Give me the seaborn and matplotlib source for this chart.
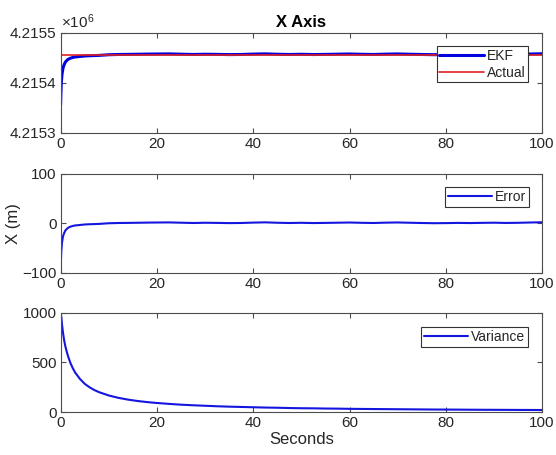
import matplotlib
matplotlib.use("Agg")
import matplotlib.pyplot as plt
import seaborn as sns
from matplotlib.ticker import FuncFormatter

# ---- data ----
t = [0, 0.05, 0.15, 0.3, 0.5, 0.75, 1, 1.5, 2, 2.5, 3, 4, 5, 6, 7, 8, 10, 12, 14, 16, 18, 20,
     22.5, 25, 27.5, 30, 32.5, 35, 37.5, 40, 42.5, 45, 47.5, 50, 52.5, 55, 57.5, 60, 62.5, 65,
     67.5, 70, 72.5, 75, 77.5, 80, 82.5, 85, 87.5, 90, 92.5, 95, 97.5, 100]

ekf = [4215356, 4215376, 4215401, 4215418, 4215430, 4215437, 4215442, 4215447, 4215449.5,
       4215451, 4215452, 4215453, 4215454, 4215454.5, 4215454.8, 4215455.2, 4215456.5,
       4215457.0, 4215457.2, 4215457.5, 4215457.8, 4215458.0,
       4215458.2, 4215457.6, 4215457.0, 4215457.5, 4215457.2, 4215456.8, 4215457.0, 4215457.8,
       4215458.3, 4215457.5, 4215457.0, 4215457.4, 4215456.9, 4215457.2, 4215457.6, 4215458.0,
       4215457.4, 4215457.0, 4215457.7, 4215458.1, 4215457.5, 4215457.0, 4215456.6, 4215456.8,
       4215457.2, 4215456.9, 4215457.3, 4215457.6, 4215457.1, 4215457.4, 4215458.0, 4215458.5]

t_actual = [0, 100]
actual = [4215456, 4215456]

error = [-100, -80, -55, -38, -26, -19, -14, -9, -6.5, -5, -4, -3, -2, -1.5, -1.2, -0.8, 0.5,
         1.0, 1.2, 1.5, 1.8, 2.0,
         2.2, 1.6, 1.0, 1.5, 1.2, 0.8, 1.0, 1.8, 2.3, 1.5, 1.0, 1.4, 0.9, 1.2, 1.6, 2.0, 1.4,
         1.0, 1.7, 2.1, 1.5, 1.0, 0.6, 0.8, 1.2, 0.9, 1.3, 1.6, 1.1, 1.4, 2.0, 2.5]

variance = [0, 970, 960, 880, 800, 720, 660, 570, 500, 445, 400, 335, 285, 250, 222, 200, 167,
            143, 125, 111, 100, 91,
            82, 74, 68, 63, 58, 54, 51, 48, 45, 43, 40, 38, 37, 35, 34, 32, 31, 30, 29, 28, 27,
            26, 25, 24.5, 24, 23, 22.5, 22, 21.5, 21, 20.5, 20]

xticks = [0, 20, 40, 60, 80, 100]

# ---- style ----
sns.set_theme(style="white")
plt.rcParams["font.family"] = ["Liberation Sans", "DejaVu Sans"]
plt.rcParams["mathtext.fontset"] = "custom"
plt.rcParams["mathtext.rm"] = "Liberation Sans"
plt.rcParams["mathtext.it"] = "Liberation Sans"

FS = 11
LFS = 12
edge = "#4d4d4d"
txt = "#262626"

fig = plt.figure(figsize=(5.56, 4.55), dpi=100)
left, width = 0.109, 0.866
ax1 = fig.add_axes([left, 0.7077, width, 0.2198])
ax2 = fig.add_axes([left, 0.400, width, 0.2176])
ax3 = fig.add_axes([left, 0.0945, width, 0.2176])

sns.lineplot(x=t, y=ekf, ax=ax1, color="#0000e0", lw=2.2, label="EKF", sort=False)
sns.lineplot(x=t_actual, y=actual, ax=ax1, color="#e02020", lw=1.2, label="Actual", sort=False)
sns.lineplot(x=t, y=error, ax=ax2, color="#1515e0", lw=1.5, label="Error", sort=False)
sns.lineplot(x=t, y=variance, ax=ax3, color="#1515e0", lw=1.5, label="Variance", sort=False)

ax1.set_ylim(4215300, 4215500)
ax1.set_yticks([4215300, 4215400, 4215500])
ax1.yaxis.set_major_formatter(FuncFormatter(lambda v, p: f"{v/1e6:.4f}"))
ax1.text(0.0, 1.02, r"$\mathregular{\times10^{6}}$", transform=ax1.transAxes,
         ha="left", va="bottom", fontsize=FS, color=txt)
ax1.set_title("X Axis", fontsize=LFS, fontweight="bold", color="black", pad=4)

ax2.set_ylim(-100, 100)
ax2.set_yticks([-100, 0, 100])
ax2.set_ylabel("X (m)", fontsize=LFS, color=txt, labelpad=1)

ax3.set_ylim(0, 1000)
ax3.set_yticks([0, 500, 1000])
ax3.set_xlabel("Seconds", fontsize=LFS, color=txt, labelpad=1)

anchors = {ax1: (0.971, 0.87), ax2: (0.973, 0.869), ax3: (0.971, 0.859)}
for ax in (ax1, ax2, ax3):
    ax.set_xlim(0, 100)
    ax.set_xticks(xticks)
    ax.tick_params(direction="in", length=3.5, width=0.8, colors=edge, labelcolor=txt,
                   labelsize=FS, top=True, right=True, bottom=True, left=True, pad=3)
    for s in ax.spines.values():
        s.set_color(edge)
        s.set_linewidth(0.8)
    leg = ax.legend(loc="upper right", fontsize=10, handlelength=3.2, handletextpad=0.2,
                    borderpad=0.2, labelspacing=0.2, fancybox=False, framealpha=1,
                    edgecolor="#333333", bbox_to_anchor=anchors[ax], borderaxespad=0)
    leg.get_frame().set_linewidth(0.8)
    if ax is not ax3:
        ax.set_xlabel("")
    if ax is not ax2:
        ax.set_ylabel("")

fig.savefig("out.png", dpi=100)
